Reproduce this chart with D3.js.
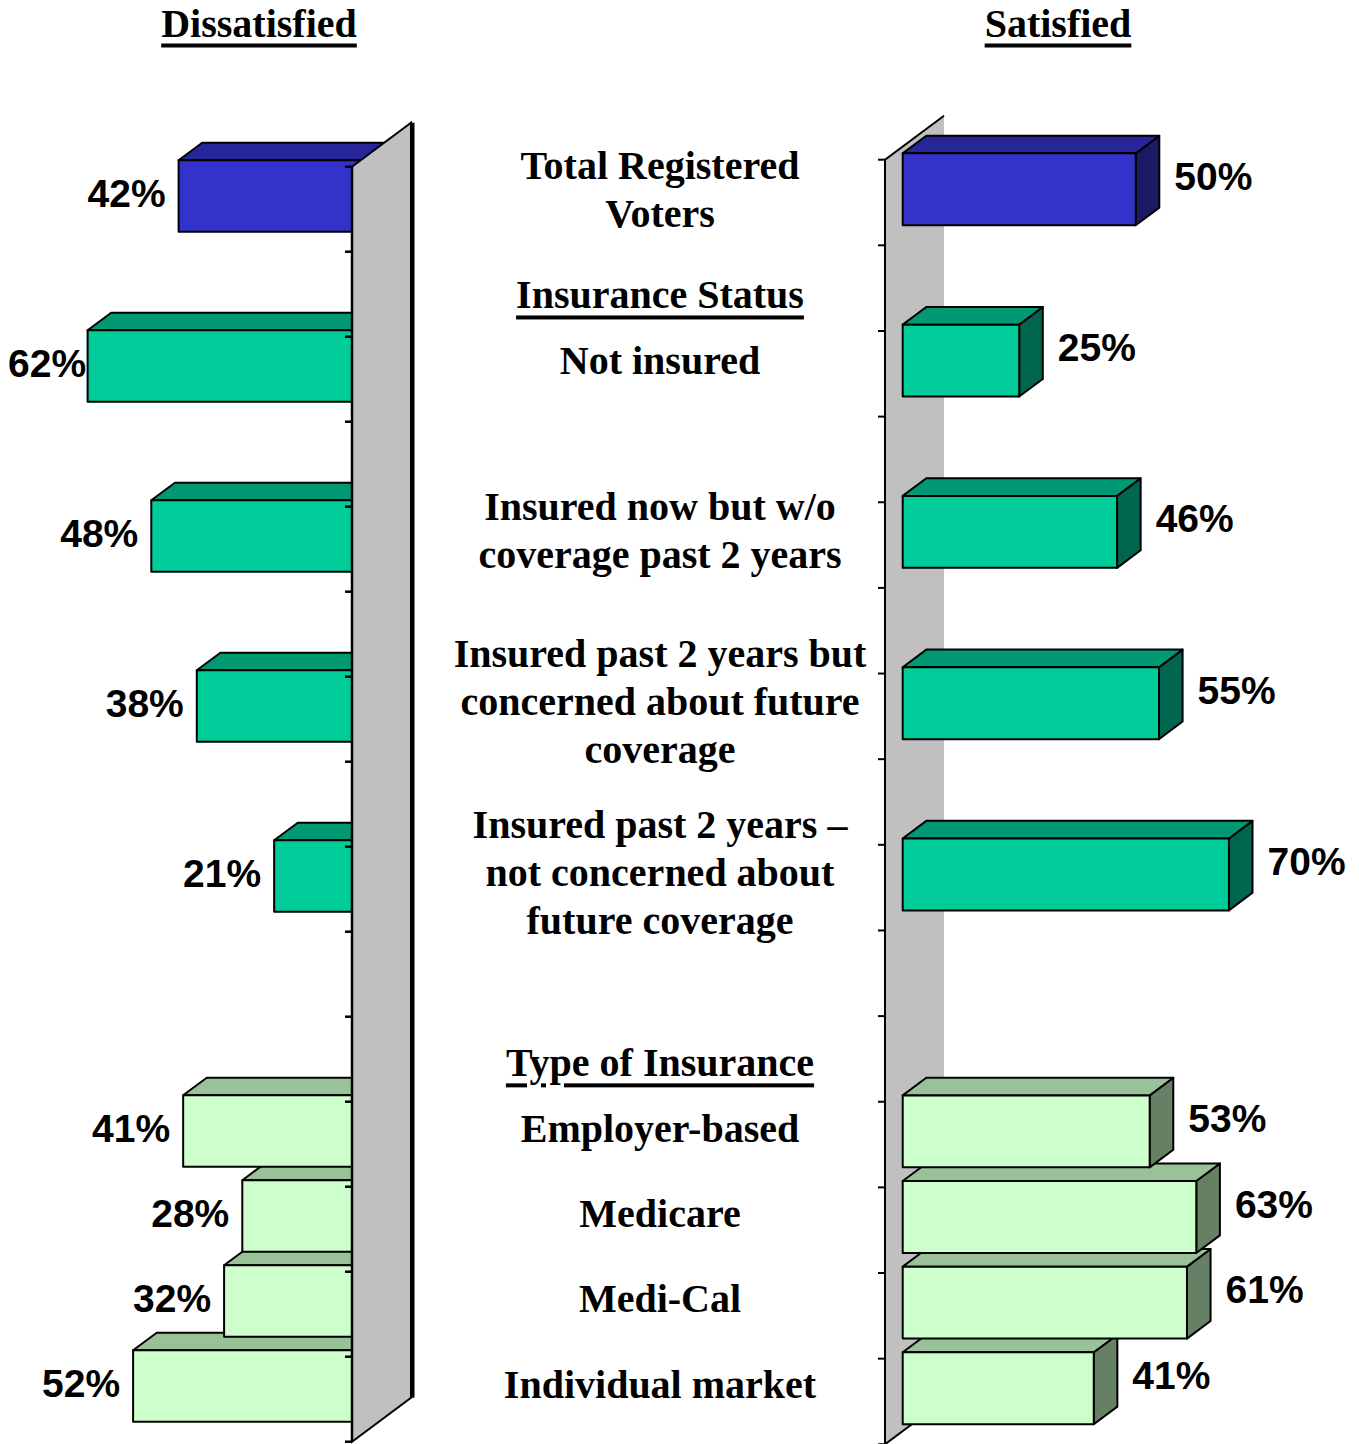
<!DOCTYPE html>
<html>
<head>
<meta charset="utf-8">
<script src="https://cdn.jsdelivr.net/npm/d3@7"></script>
<style>
body{margin:0;background:#fff;}
svg{display:block;}
</style>
</head>
<body>
<svg id="chart" width="1359" height="1444"></svg>
<script>
'use strict';
// data
var categories = [
	["Total Registered","Voters"],
	["Not insured"],
	["Insured now but w/o","coverage past 2 years"],
	["Insured past 2 years but","concerned about future","coverage"],
	["Insured past 2 years \u2013","not concerned about","future coverage"],
	["Employer-based"],
	["Medicare"],
	["Medi-Cal"],
	["Individual market"]
];
var slotIndex = [0,2,4,6,8,11,12,13,14];
var groups = ["total","status","status","status","status","type","type","type","type"];
var dissatisfied = [42,62,48,38,21,41,28,32,52];
var satisfied = [50,25,46,55,70,53,63,61,41];
var headers = ["Insurance Status","Type of Insurance"];
var headerSlots = [1,10];
var titles = ["Dissatisfied","Satisfied"];

var palette = {
	total:{front:'#3333cc',top:'#262699',side:'#1a1a66'},
	status:{front:'#00cc99',top:'#009973',side:'#006650'},
	type:{front:'#ccffcc',top:'#99c299',side:'#668066'}
};

var svg = d3.select('#chart'),
	nSlots = 15,
	depth = {x:59,y:-44},          // full depth of the wall
	off = {x:depth.x*0.3,y:depth.y*0.3},   // bars start 30% back
	bd = {x:depth.x*0.4,y:depth.y*0.4},    // bar depth
	serif = '"Liberation Serif","Times New Roman",serif',
	sans = '"Liberation Sans",Arial,sans-serif';

var rows = categories.map(function(c,i){
	return {lines:c,slot:slotIndex[i],group:groups[i],dis:dissatisfied[i],sat:satisfied[i]};
});
// bottom rows first so upper bars overlap lower ones
var drawRows = rows.slice().sort(function(a,b){return b.slot-a.slot;});

var yL = d3.scaleBand().domain(d3.range(nSlots)).range([166.7,1441.7]).paddingInner(0.16).paddingOuter(0.08),
	yR = d3.scaleBand().domain(d3.range(nSlots)).range([159.7,1444.3]).paddingInner(0.16).paddingOuter(0.08),
	xL = d3.scaleLinear().domain([0,100]).range([352,352-455]),
	xR = d3.scaleLinear().domain([0,100]).range([885,885+466]);

function drawBar(g,xa,xb,y,h,col){
	var x0 = Math.min(xa,xb), x1 = Math.max(xa,xb);
	var bar = g.append('g');
	bar.append('path')
		.attr('d','M'+x1+','+y+'L'+(x1+bd.x)+','+(y+bd.y)+'L'+(x1+bd.x)+','+(y+h+bd.y)+'L'+x1+','+(y+h)+'Z')
		.style('fill',col.side);
	bar.append('path')
		.attr('d','M'+x0+','+y+'L'+(x0+bd.x)+','+(y+bd.y)+'L'+(x1+bd.x)+','+(y+bd.y)+'L'+x1+','+y+'Z')
		.style('fill',col.top);
	bar.append('rect')
		.attr('x',x0).attr('y',y).attr('width',x1-x0).attr('height',h)
		.style('fill',col.front);
	bar.selectAll('path,rect').style('stroke','#000').style('stroke-width',2).style('stroke-linejoin','round');
}

function wallPath(x,top,bottom){
	return 'M'+x+','+top+'L'+(x+depth.x)+','+(top+depth.y)+'L'+(x+depth.x)+','+(bottom+depth.y)+'L'+x+','+bottom+'Z';
}

// ---- left chart (dissatisfied, bars go left, wall in front) ----
var left = svg.append('g').attr('id','left');
var lTop = yL.range()[0], lBot = yL.range()[1];
var lBars = left.append('g');
drawRows.forEach(function(d){
	drawBar(lBars, xL(0)+off.x, xL(d.dis)+off.x, yL(d.slot)+off.y, yL.bandwidth(), palette[d.group]);
});
left.append('path').attr('d',wallPath(352,lTop,lBot))
	.style('fill','#c0c0c0').style('stroke','#000').style('stroke-width',2);
left.append('line')
	.attr('x1',352+depth.x+1.5).attr('x2',352+depth.x+1.5)
	.attr('y1',lTop+depth.y).attr('y2',lBot+depth.y)
	.style('stroke','#000').style('stroke-width',4);
left.append('line').attr('x1',352).attr('x2',352).attr('y1',lTop).attr('y2',lBot)
	.style('stroke','#000').style('stroke-width',2.5);
left.selectAll('.tick').data(d3.range(nSlots+1)).enter().append('line')
	.attr('class','tick')
	.attr('x1',345).attr('x2',352)
	.attr('y1',function(i){return lTop+i*yL.step();})
	.attr('y2',function(i){return lTop+i*yL.step();})
	.style('stroke','#000').style('stroke-width',2.5);
left.selectAll('.val').data(rows).enter().append('text')
	.attr('class','val')
	.text(function(d){return d.dis+'%';})
	.attr('x',function(d){return xL(d.dis)+off.x-13;})
	.attr('y',function(d){return yL(d.slot)+off.y+yL.bandwidth()/2-3;})
	.style('font-family',sans).style('font-weight','bold').style('font-size','39px')
	.style('text-anchor','end').style('dominant-baseline','central')
	.each(function(){
		// keep label inside the page
		var w = this.getComputedTextLength(), x = +d3.select(this).attr('x');
		if(x-w<8) d3.select(this).attr('x',8+w);
	});

// ---- right chart (satisfied) ----
var right = svg.append('g').attr('id','right');
var rTop = yR.range()[0], rBot = yR.range()[1];
right.append('path').attr('d',wallPath(885,rTop,rBot)).style('fill','#c0c0c0');
right.append('path')
	.attr('d','M'+(885+depth.x)+','+(rTop+depth.y)+'L885,'+rTop+'L885,'+rBot+'L'+(885+depth.x)+','+(rBot+depth.y))
	.style('fill','none').style('stroke','#000').style('stroke-width',2);
right.selectAll('.tick').data(d3.range(nSlots+1)).enter().append('line')
	.attr('class','tick')
	.attr('x1',878).attr('x2',885)
	.attr('y1',function(i){return rTop+i*yR.step();})
	.attr('y2',function(i){return rTop+i*yR.step();})
	.style('stroke','#000').style('stroke-width',2);
var rBars = right.append('g');
drawRows.forEach(function(d){
	drawBar(rBars, xR(0)+off.x, xR(d.sat)+off.x, yR(d.slot)+off.y, yR.bandwidth(), palette[d.group]);
});
right.selectAll('.val').data(rows).enter().append('text')
	.attr('class','val')
	.text(function(d){return d.sat+'%';})
	.attr('x',function(d){return xR(d.sat)+off.x+bd.x+15;})
	.attr('y',function(d){return yR(d.slot)+off.y+yR.bandwidth()/2-13;})
	.style('font-family',sans).style('font-weight','bold').style('font-size','39px')
	.style('dominant-baseline','central');

// ---- centre labels ----
function labelY(slot){
	var a = yL(slot)+off.y+yL.bandwidth()/2, b = yR(slot)+off.y+yR.bandwidth()/2;
	return (a+b)/2-3;
}
var labels = svg.append('g').attr('id','labels')
	.style('font-family',serif).style('font-weight','bold').style('font-size','40px')
	.style('text-anchor','middle');
labels.selectAll('text.cat').data(rows).enter().append('text')
	.attr('class','cat')
	.attr('x',660)
	.each(function(d){
		var t = d3.select(this), n = d.lines.length, cy = labelY(d.slot);
		d.lines.forEach(function(l,j){
			t.append('tspan').attr('x',660).attr('y',cy+(j-(n-1)/2)*48)
				.style('dominant-baseline','central').text(l);
		});
	});
labels.selectAll('text.head').data(headers).enter().append('text')
	.attr('class','head')
	.attr('x',660)
	.attr('y',function(d,i){return labelY(headerSlots[i])+20;})
	.style('dominant-baseline','central')
	.style('text-decoration','underline')
	.text(function(d){return d;});

// ---- titles ----
svg.selectAll('text.title').data(titles).enter().append('text')
	.attr('class','title')
	.attr('x',function(d,i){return i?1058:259;})
	.attr('y',23)
	.style('font-family',serif).style('font-weight','bold').style('font-size','40px')
	.style('text-anchor','middle').style('dominant-baseline','central')
	.style('text-decoration','underline')
	.text(function(d){return d;});
</script>
</body>
</html>
